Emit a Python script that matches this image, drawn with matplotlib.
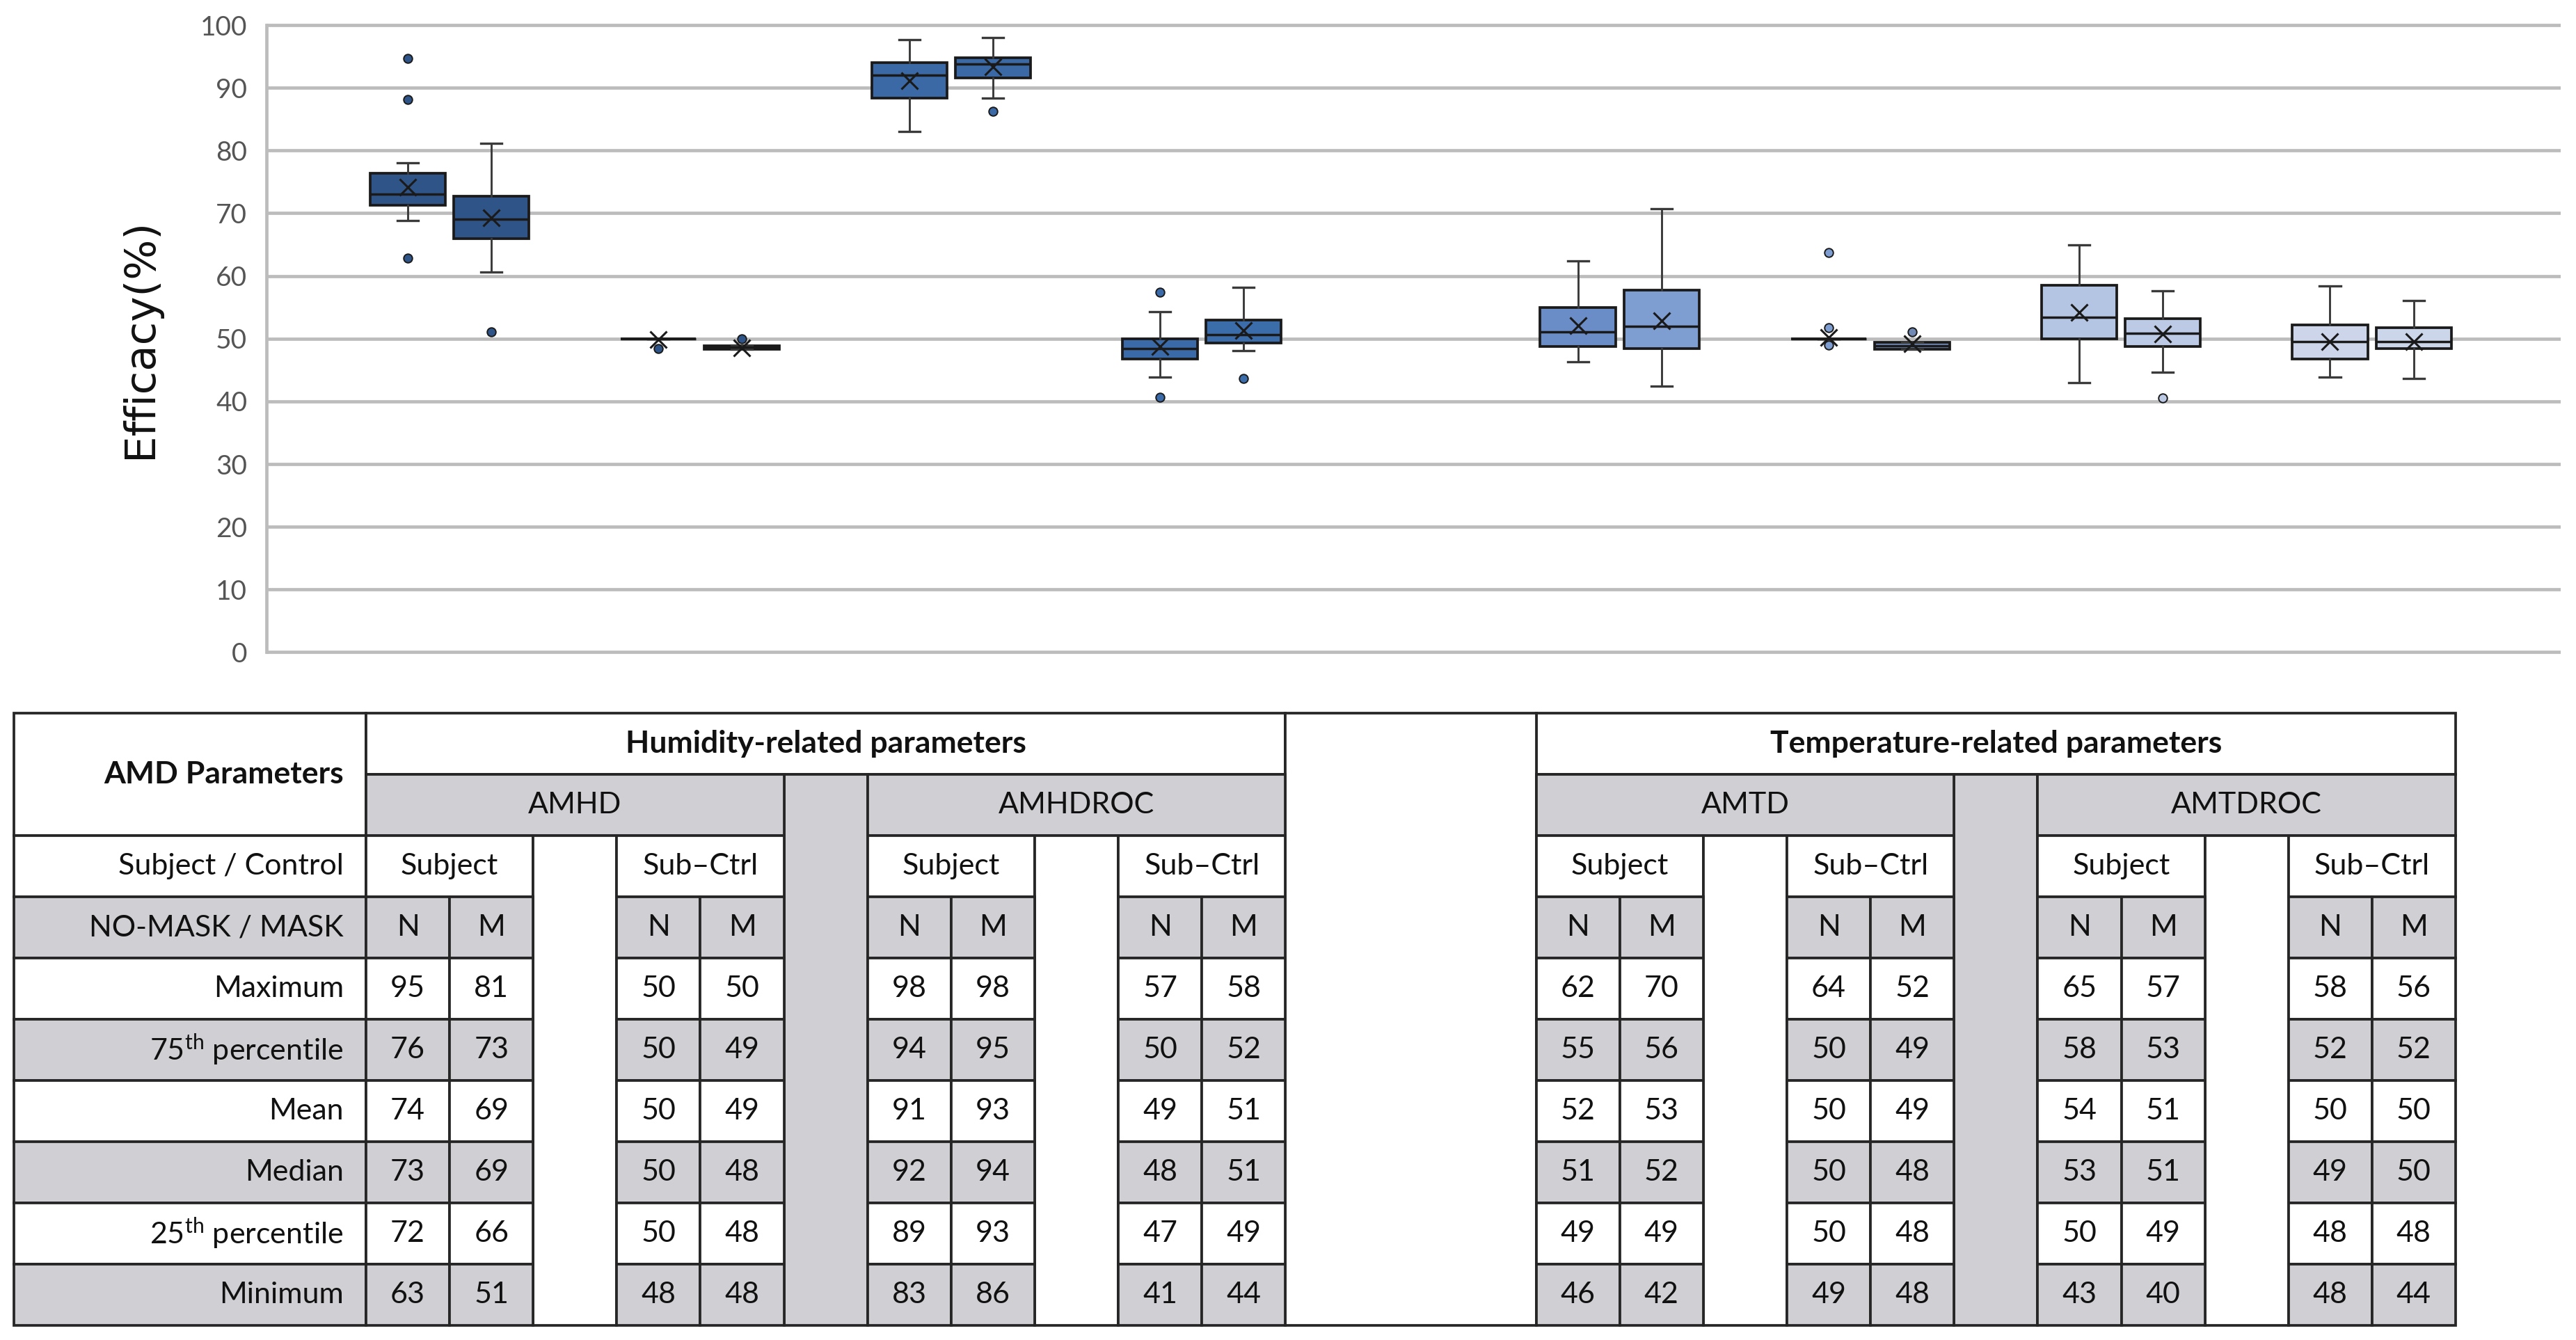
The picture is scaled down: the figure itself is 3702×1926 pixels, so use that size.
import matplotlib
matplotlib.use("Agg")
import matplotlib.pyplot as plt
from matplotlib.patches import Rectangle

plt.rcParams['font.family'] = ['Lato', 'DejaVu Sans']
plt.rcParams['mathtext.fontset'] = 'custom'
plt.rcParams['mathtext.rm'] = 'Lato'
plt.rcParams['mathtext.it'] = 'Lato:italic'
plt.rcParams['mathtext.bf'] = 'Lato:bold'

# ---------------- data (chart) ----------------
box_labels = ["AMHD Subject N", "AMHD Subject M", "AMHD Sub-Ctrl N", "AMHD Sub-Ctrl M",
              "AMHDROC Subject N", "AMHDROC Subject M", "AMHDROC Sub-Ctrl N", "AMHDROC Sub-Ctrl M",
              "AMTD Subject N", "AMTD Subject M", "AMTD Sub-Ctrl N", "AMTD Sub-Ctrl M",
              "AMTDROC Subject N", "AMTDROC Subject M", "AMTDROC Sub-Ctrl N", "AMTDROC Sub-Ctrl M"]
box_q1 = [71.3, 66.0, 50.0, 48.3, 88.3, 91.6, 46.8, 49.3, 48.8, 48.4, 50.0, 48.3, 50.0, 48.8, 46.8, 48.4]
box_med = [73.0, 69.0, 50.0, 48.6, 92.0, 93.8, 48.4, 50.6, 51.1, 52.0, 50.0, 48.9, 53.4, 50.9, 49.5, 49.5]
box_q3 = [76.4, 72.7, 50.0, 48.9, 94.0, 94.8, 50.0, 53.0, 55.0, 57.7, 50.0, 49.4, 58.5, 53.2, 52.2, 51.8]
box_mean = [74.1, 69.3, 49.9, 48.5, 91.1, 93.3, 48.7, 51.3, 52.1, 52.9, 50.2, 49.2, 54.2, 50.7, 49.5, 49.5]
box_whislo = [68.8, 60.6, 50.0, 48.3, 83.0, 88.4, 43.9, 48.1, 46.3, 42.4, 50.0, 48.3, 43.0, 44.7, 43.9, 43.7]
box_whishi = [78.0, 81.1, 50.0, 48.9, 97.7, 98.0, 54.3, 58.2, 62.4, 70.7, 50.0, 49.4, 64.9, 57.6, 58.4, 56.1]
box_fliers = [[94.7, 88.1, 62.8], [51.1], [48.4], [50.0], [], [86.2], [57.4, 40.7], [43.7],
              [], [], [63.7, 51.7, 48.95], [51.1], [], [40.5], [], []]
box_colors = ['#2f5487', '#2f5487', '#2f5487', '#2f5487',
              '#3a69a5', '#3a69a5', '#3a6aa8', '#3b6dab',
              '#6a8dc7', '#7e9ed1', '#7e9ed1', '#7189b5',
              '#b4c5e3', '#bccae6', '#ccd5ea', '#ccd6ea']
# table column index of each box
box_cols = [0, 1, 3, 4, 6, 7, 9, 10, 14, 15, 17, 18, 20, 21, 23, 24]

# ---------------- data (table) ----------------
row_labels = ["Maximum", "75$^{\\mathrm{th}}$ percentile", "Mean", "Median",
              "25$^{\\mathrm{th}}$ percentile", "Minimum"]
tbl_max = [95, 81, 50, 50, 98, 98, 57, 58, 62, 70, 64, 52, 65, 57, 58, 56]
tbl_q3 = [76, 73, 50, 49, 94, 95, 50, 52, 55, 56, 50, 49, 58, 53, 52, 52]
tbl_mean = [74, 69, 50, 49, 91, 93, 49, 51, 52, 53, 50, 49, 54, 51, 50, 50]
tbl_median = [73, 69, 50, 48, 92, 94, 48, 51, 51, 52, 50, 48, 53, 51, 49, 50]
tbl_q1 = [72, 66, 50, 48, 89, 93, 47, 49, 49, 49, 50, 48, 50, 49, 48, 48]
tbl_min = [63, 51, 48, 48, 83, 86, 41, 44, 46, 42, 49, 48, 43, 40, 48, 44]
group_names = ["AMHD", "AMHDROC", "AMTD", "AMTDROC"]
group_starts = [0, 6, 14, 20]
section_names = ["Humidity-related parameters", "Temperature-related parameters"]
section_spans = [(0, 11), (14, 25)]
spacer_cols = [5, 19]

W, H = 3702, 1926
fig = plt.figure(figsize=(W / 100, H / 100), dpi=100)

# ---------------- chart ----------------
y_top_px, y_bot_px = 30.6, 942.9
ax = fig.add_axes([383 / W, 1 - y_bot_px / H, (3680 - 383) / W, (y_bot_px - y_top_px) / H])
stats = []
for i in range(len(box_labels)):
    stats.append(dict(label=box_labels[i], q1=box_q1[i], med=box_med[i], q3=box_q3[i],
                      mean=box_mean[i], whislo=box_whislo[i], whishi=box_whishi[i],
                      fliers=box_fliers[i]))
bp = ax.bxp(stats, positions=box_cols, widths=0.9, capwidths=[0.25] * len(stats),
            patch_artist=True, showmeans=True, meanline=False, showfliers=True,
            boxprops=dict(edgecolor='#1a1a1a', linewidth=2.7),
            medianprops=dict(color='#1a1a1a', linewidth=2.5),
            whiskerprops=dict(color='#3a3a3a', linewidth=2.1),
            capprops=dict(color='#3a3a3a', linewidth=2.4),
            meanprops=dict(marker='x', markeredgecolor='#1a1a1a', markersize=17,
                           markeredgewidth=2.2),
            flierprops=dict(marker='o', markersize=9, markeredgecolor='#1a1a1a',
                            markeredgewidth=1.4))
for patch, c in zip(bp['boxes'], box_colors):
    patch.set_facecolor(c)
for fl, c in zip(bp['fliers'], box_colors):
    fl.set_markerfacecolor(c)

ax.set_ylim(-0.6, 100.6)
ax.set_xlim(-1.69, 25.76)
ax.set_yticks(range(0, 101, 10))
ax.set_xticks([])
ax.grid(axis='y', color='#bcbcbc', linewidth=3.4)
ax.set_axisbelow(True)
for s in ['top', 'right', 'bottom']:
    ax.spines[s].set_visible(False)
ax.spines['left'].set_color('#bcbcbc')
ax.spines['left'].set_linewidth(3.4)
ax.spines['left'].set_bounds(0, 100)
ax.tick_params(axis='y', length=0, pad=20, labelsize=28, labelcolor='#555555')
ax.set_ylabel('Efficacy(%)', fontsize=44, family='DejaVu Sans', color='#111111')
ax.yaxis.set_label_coords((201 - 383) / (3680 - 383), 0.5)
ax.yaxis.label.set_va('center')

# ---------------- table ----------------
tax = fig.add_axes([0, 0, 1, 1])
tax.set_xlim(0, W)
tax.set_ylim(H, 0)
tax.axis('off')
tax.patch.set_visible(False)

GRAY = '#d0d0d4'
EDGE = '#262626'
LW = 2.7
FS = 31
FSB = 32
X0, U = 526, 120.12
LX0 = 20
ry = [1025 + 88 * i for i in range(11)]


def cx(k):
    return X0 + U * k


def cell(x0, x1, r0, r1, fc='white', text=None, ha='center', bold=False):
    y0, y1 = ry[r0], ry[r1]
    tax.add_patch(Rectangle((x0, y0), x1 - x0, y1 - y0, facecolor=fc, edgecolor=EDGE,
                            linewidth=LW))
    if text is not None:
        tx = (x0 + x1) / 2 if ha == 'center' else x1 - 32
        tax.text(tx, (y0 + y1) / 2, text, ha=ha, va='center', fontsize=FSB if bold else FS,
                 fontweight='bold' if bold else 'normal', color='#111111')


# label column
cell(LX0, cx(0), 0, 2, 'white', 'AMD Parameters', ha='right', bold=True)
cell(LX0, cx(0), 2, 3, 'white', 'Subject / Control', ha='right')
cell(LX0, cx(0), 3, 4, GRAY, 'NO-MASK / MASK', ha='right')
for r, lab in enumerate(row_labels):
    cell(LX0, cx(0), 4 + r, 5 + r, 'white' if r % 2 == 0 else GRAY, lab, ha='right')

# section headers and gap
for name, (a, b) in zip(section_names, section_spans):
    cell(cx(a), cx(b), 0, 1, 'white', name, bold=True)
cell(cx(11), cx(14), 0, 10, 'white')
for sc in spacer_cols:
    cell(cx(sc), cx(sc + 1), 1, 10, GRAY)

tbl_rows = [tbl_max, tbl_q3, tbl_mean, tbl_median, tbl_q1, tbl_min]
for g, s in zip(group_names, group_starts):
    cell(cx(s), cx(s + 5), 1, 2, GRAY, g)
    cell(cx(s), cx(s + 2), 2, 3, 'white', 'Subject')
    cell(cx(s + 2), cx(s + 3), 2, 10, 'white')
    cell(cx(s + 3), cx(s + 5), 2, 3, 'white', 'Sub\u2013Ctrl')
    for off, nm in zip([0, 1, 3, 4], ['N', 'M', 'N', 'M']):
        cell(cx(s + off), cx(s + off + 1), 3, 4, GRAY, nm)

for r, vals in enumerate(tbl_rows):
    fc = 'white' if r % 2 == 0 else GRAY
    for v, k in zip(vals, box_cols):
        cell(cx(k), cx(k + 1), 4 + r, 5 + r, fc, str(v))

fig.savefig('out.png', dpi=100)
